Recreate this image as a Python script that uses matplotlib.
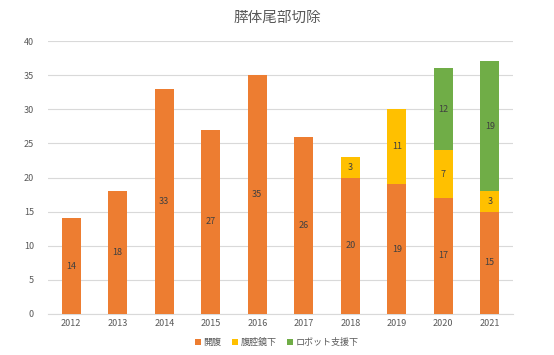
import numpy as np
import matplotlib.pyplot as plt

plt.rcParams['font.family'] = ['Noto Sans CJK JP', 'DejaVu Sans']

years = ['2012', '2013', '2014', '2015', '2016', '2017', '2018', '2019', '2020', '2021']
open_surg = [14, 18, 33, 27, 35, 26, 20, 19, 17, 15]
lap_surg = [0, 0, 0, 0, 0, 0, 3, 11, 7, 3]
robot_surg = [0, 0, 0, 0, 0, 0, 0, 0, 12, 19]
names = ['開腹', '腹腔鏡下', 'ロボット支援下']
colors = ['#ED7D31', '#FFC000', '#70AD47']

fig = plt.figure(figsize=(5.54, 3.55), dpi=100)
ax = fig.add_axes([0.0866, 0.1155, 0.8394, 0.769])

x = np.arange(len(years))
bottom = np.zeros(len(years))
for vals, name, col in zip([open_surg, lap_surg, robot_surg], names, colors):
    vals = np.array(vals)
    bars = ax.bar(x, vals, width=0.41, bottom=bottom, color=col, label=name, zorder=3)
    for xi, v, b in zip(x, vals, bottom):
        if v > 0:
            ax.text(xi, b + v / 2, str(v), ha='center', va='center',
                    fontsize=6.5, color='#404040', zorder=4)
    bottom = bottom + vals

ax.set_xlim(-0.5, len(years) - 0.5)
ax.set_ylim(0, 40)
ax.set_yticks(np.arange(0, 41, 5))
ax.set_xticks(x)
ax.set_xticklabels(years)
ax.tick_params(axis='both', length=0, labelsize=6.5, colors='#595959')
ax.tick_params(axis='y', pad=10)
ax.grid(axis='y', color='#D9D9D9', linewidth=0.8, zorder=0)
for s in ['top', 'right', 'left']:
    ax.spines[s].set_visible(False)
ax.spines['bottom'].set_color('#D9D9D9')

fig.suptitle('膵体尾部切除', x=0.5, y=0.97, fontsize=10.5, color='#595959')
fig.legend(loc='lower center', bbox_to_anchor=(0.5, 0.0), ncol=3, frameon=False,
           fontsize=6.5, handlelength=0.6, handleheight=0.6, handletextpad=0.3,
           columnspacing=1.2, labelcolor='#595959')

fig.savefig('out.png', dpi=100)
